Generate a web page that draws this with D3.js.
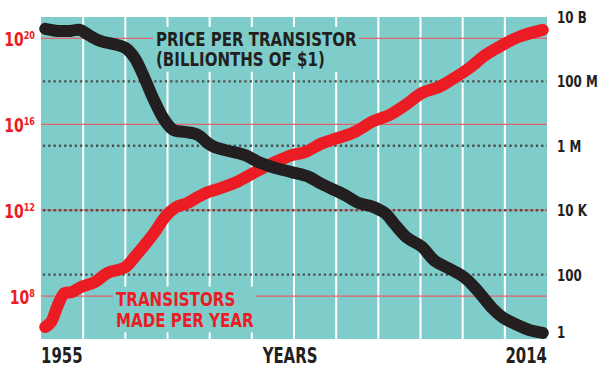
<!DOCTYPE html>
<html>
<head>
<meta charset="utf-8">
<script src="https://cdn.jsdelivr.net/npm/d3@7"></script>
<style>
  body { margin: 0; background: #fff; }
  svg { display: block; }
  text { font-family: "Liberation Sans Narrow", "Arial Narrow", "DejaVu Sans Condensed", sans-serif; font-weight: bold; }
</style>
</head>
<body>
<svg id="chart"></svg>
<script>
// price per transistor, billionths of $1 (right axis)
const priceYears = [1955, 1956.5, 1958, 1959.1, 1960.1, 1961.5, 1963.3, 1964.5, 1965.6, 1966.6, 1967.8, 1969, 1970.2, 1971.6, 1973.1, 1974.3, 1975.1, 1976.3, 1978.7, 1980.2, 1981.9, 1984.3, 1986.2, 1987.8, 1990.5, 1992.1, 1993.8, 1995.3, 1996.5, 1997.9, 1999.7, 2001.1, 2003.2, 2004.8, 2006.4, 2008, 2009.2, 2010.4, 2012.4, 2014]
const priceValues = [4.3e9, 3.7e9, 3.7e9, 4.0e9, 2.8e9, 1.8e9, 1.4e9, 1.1e9, 5.4e8, 1.6e8, 3.0e7, 7.2e6, 3.1e6, 2.7e6, 2.2e6, 1.2e6, 9.1e5, 7.4e5, 5.1e5, 3.2e5, 2.2e5, 1.5e5, 1.1e5, 6.5e4, 3.0e4, 1.7e4, 1.3e4, 8.1e3, 3.5e3, 1.4e3, 720, 280, 140, 78, 29, 9.1, 4.8, 3.2, 1.9, 1.55]

// transistors made per year (left axis)
const madeYears = [1955, 1955.7, 1956.5, 1957.3, 1958.1, 1959.2, 1960.9, 1962.4, 1964.5, 1965.6, 1966.8, 1968, 1969.2, 1970.4, 1971.9, 1973.1, 1974.3, 1975.1, 1977.5, 1979.9, 1982.2, 1984.3, 1985.8, 1987.8, 1989.7, 1991.7, 1993.9, 1995.8, 1997.7, 1999.7, 2001.7, 2003.2, 2005.3, 2007.2, 2009.2, 2011.2, 2014]
const madeValues = [3.6e6, 6.2e6, 3.8e7, 1.4e8, 1.5e8, 2.6e8, 4.5e8, 1.2e9, 2.2e9, 6.6e9, 2.4e10, 9.6e10, 4.8e11, 1.3e12, 2.2e12, 4.1e12, 7.0e12, 8.7e12, 1.9e13, 6.0e13, 1.7e14, 3.7e14, 5.1e14, 1.3e15, 2.3e15, 4.4e15, 1.4e16, 2.7e16, 7.9e16, 2.9e17, 5.5e17, 1.2e18, 4.2e18, 1.7e19, 4.9e19, 1.2e20, 2.5e20]

const leftTicks = [1e8, 1e12, 1e16, 1e20]
const leftTickExp = ["8", "12", "16", "20"]
const rightTicks = [1, 100, 1e4, 1e6, 1e8, 1e10]
const rightTickLabels = ["1", "100", "10 K", "1 M", "100 M", "10 B"]
const yearLabels = [1955, 2014]

const width = 600
const height = 374
const margin = {top: 17, right: 53, bottom: 35, left: 41}
const chartWidth = width - margin.left - margin.right
const chartHeight = height - margin.top - margin.bottom

const teal = "#7ecdca"
const red = "#ec1c24"
const ink = "#231f20"

const x = d3.scaleLinear().domain([1954.5, 2014.5]).range([0, chartWidth])
const yL = d3.scaleLog().domain([1e6, 1e21]).range([chartHeight, 0])
const yR = d3.scaleLog().domain([1, 1e10]).range([chartHeight, 0])

const svg = d3.select('#chart').attr('width', width).attr('height', height)
const g = svg.append('g').attr('transform', `translate(${margin.left}, ${margin.top})`)

g.append('rect').attr('width', chartWidth).attr('height', chartHeight).attr('fill', teal)

// white column lines every 5 years
g.append('g').selectAll('line')
  .data(d3.range(1959.5, 2014, 5))
  .join('line')
  .attr('x1', d => x(d)).attr('x2', d => x(d))
  .attr('y1', 0).attr('y2', chartHeight)
  .attr('stroke', '#fff').attr('stroke-width', 2)

// thin red lines on left ticks
g.append('g').selectAll('line')
  .data(leftTicks)
  .join('line')
  .attr('x1', 0).attr('x2', chartWidth)
  .attr('y1', d => yL(d)).attr('y2', d => yL(d))
  .attr('stroke', '#e2636b').attr('stroke-width', 1.2)

// dotted lines on right ticks
g.append('g').selectAll('line')
  .data(rightTicks.filter(d => d > 1 && d < 1e10))
  .join('line')
  .attr('x1', 2).attr('x2', chartWidth)
  .attr('y1', d => yR(d)).attr('y2', d => yR(d))
  .attr('stroke', '#4d4a4b').attr('stroke-width', 2.4)
  .attr('stroke-dasharray', '2.2,3.1')

// labels sit on a teal box that breaks the grid
function label(lines, px, py, color, fs, lh, sx) {
  const bg = g.append('rect').attr('fill', teal)
  const grp = g.append('g').attr('transform', `translate(${px}, ${py}) scale(${sx}, 1)`)
  lines.forEach((t, i) => {
    grp.append('text').attr('y', i * lh).attr('font-size', fs).attr('fill', color).text(t)
  })
  const b = grp.node().getBBox()
  bg.attr('x', px - 3).attr('y', py + b.y - 1)
    .attr('width', b.width * sx + 5).attr('height', b.height + 2)
}

const line = d3.line().curve(d3.curveCatmullRom.alpha(0.5))

g.append('path')
  .datum(madeYears.map((yr, i) => [x(yr), yL(madeValues[i])]))
  .attr('d', line)
  .attr('fill', 'none').attr('stroke', red).attr('stroke-width', 12)
  .attr('stroke-linecap', 'round').attr('stroke-linejoin', 'round')

g.append('path')
  .datum(priceYears.map((yr, i) => [x(yr), yR(priceValues[i])]))
  .attr('d', line)
  .attr('fill', 'none').attr('stroke', ink).attr('stroke-width', 12)
  .attr('stroke-linecap', 'round').attr('stroke-linejoin', 'round')

label(["PRICE PER TRANSISTOR", "(BILLIONTHS OF $1)"], 115, 29, ink, 19, 20.5, 0.88)
label(["TRANSISTORS", "MADE PER YEAR"], 75, 289, red, 20, 21, 0.84)

// left axis labels
const lt = g.append('g').selectAll('g')
  .data(leftTicks)
  .join('g')
  .attr('transform', d => `translate(-6, ${yL(d) + 8}) scale(0.82, 1)`)
const ltText = lt.append('text').attr('text-anchor', 'end').attr('fill', red).attr('font-size', 19)
ltText.append('tspan').text('10')
ltText.append('tspan').attr('font-size', 11).attr('dy', -7).text((d, i) => leftTickExp[i])

// right axis labels
g.append('g').selectAll('text')
  .data(rightTicks)
  .join('text')
  .attr('transform', d => `translate(${chartWidth + 10}, ${Math.min(yR(d), chartHeight - 7) + 6}) scale(0.8, 1)`)
  .attr('font-size', 16.5).attr('fill', ink)
  .text((d, i) => rightTickLabels[i])

// bottom labels
g.append('g').selectAll('text')
  .data(yearLabels)
  .join('text')
  .attr('transform', (d, i) => `translate(${i ? chartWidth : 0}, ${chartHeight + 24}) scale(0.79, 1)`)
  .attr('text-anchor', (d, i) => i ? 'end' : 'start')
  .attr('font-size', 21).attr('fill', ink)
  .text(d => d)

g.append('text')
  .attr('transform', `translate(${x(1984.5) - 4}, ${chartHeight + 24}) scale(0.79, 1)`)
  .attr('text-anchor', 'middle').attr('font-size', 21).attr('fill', ink)
  .text('YEARS')
</script>
</body>
</html>
